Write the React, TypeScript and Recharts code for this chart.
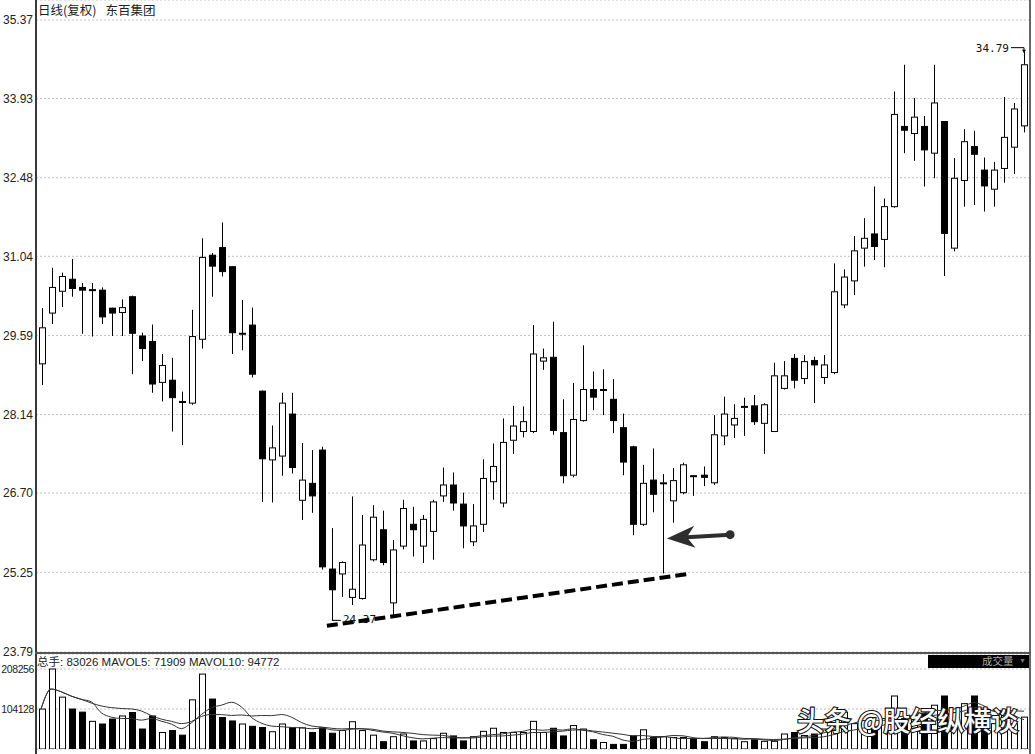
import React from 'react';
import { ComposedChart, Bar, Line, XAxis, YAxis, CartesianGrid, ReferenceLine, ReferenceDot } from 'recharts';

const OPEN = [29.07, 30.00, 30.40, 30.62, 30.47, 30.42, 30.42, 30.09, 30.01, 30.30,
  29.58, 29.48, 28.73, 28.77, 28.38, 28.35, 29.52, 31.06, 31.20, 30.85,
  29.62, 29.78, 28.57, 27.31, 27.38, 28.15, 26.57, 26.88, 27.49, 25.31,
  25.22, 24.79, 24.77, 25.48, 26.03, 24.69, 25.73, 26.13, 25.73, 26.00,
  26.65, 26.85, 26.50, 25.81, 26.13, 26.91, 26.52, 27.67, 27.83, 27.83,
  29.12, 29.19, 27.81, 27.03, 28.03, 28.60, 28.59, 28.42, 27.90, 27.55,
  26.13, 26.94, 26.88, 26.56, 26.71, 27.02, 27.03, 26.89, 27.75, 27.95,
  28.28, 28.30, 27.98, 27.83, 28.62, 29.17, 28.80, 29.13, 28.82, 28.91,
  30.15, 30.59, 31.19, 31.45, 31.35, 31.95, 33.42, 33.29, 33.42, 32.93,
  33.51, 31.19, 32.43, 33.05, 32.62, 32.27, 32.65, 33.04, 33.43];
const HIGH = [30.09, 30.83, 30.74, 30.99, 30.55, 30.55, 30.47, 30.10, 30.25, 30.32,
  29.64, 29.79, 29.25, 29.18, 28.56, 30.06, 31.37, 31.10, 31.66, 30.86,
  30.24, 30.10, 28.58, 27.94, 28.54, 28.54, 27.62, 27.49, 27.55, 26.06,
  25.45, 26.64, 26.30, 26.48, 26.38, 25.84, 26.58, 26.45, 26.30, 26.58,
  27.17, 27.08, 26.71, 26.50, 27.32, 27.61, 28.07, 28.30, 28.29, 29.78,
  29.35, 29.84, 28.42, 28.72, 29.41, 28.93, 28.97, 28.79, 28.16, 27.57,
  27.22, 27.52, 27.05, 27.16, 27.26, 27.03, 27.19, 28.13, 28.47, 28.33,
  28.45, 28.50, 28.35, 29.09, 29.12, 29.25, 29.23, 29.20, 29.23, 30.91,
  30.80, 31.41, 31.74, 32.32, 32.10, 34.06, 34.55, 33.94, 33.61, 34.55,
  33.52, 32.84, 33.37, 33.34, 32.85, 32.77, 33.96, 33.85, 34.79];
const LOW = [28.68, 29.80, 30.11, 30.30, 29.62, 29.57, 29.80, 29.58, 29.58, 28.88,
  29.12, 28.54, 28.38, 27.83, 27.58, 28.32, 29.35, 30.30, 30.67, 29.25,
  29.32, 28.82, 26.54, 26.53, 27.02, 27.06, 26.21, 26.34, 25.30, 24.37,
  24.80, 24.65, 24.75, 25.45, 25.38, 24.47, 25.67, 25.54, 25.42, 25.48,
  26.54, 26.38, 25.69, 25.73, 25.99, 26.58, 26.44, 27.42, 27.72, 27.80,
  28.96, 27.77, 26.88, 26.99, 28.01, 28.22, 28.13, 27.80, 27.03, 25.93,
  26.10, 26.35, 25.23, 26.16, 26.68, 26.65, 26.83, 26.85, 27.58, 27.71,
  27.75, 27.95, 27.42, 27.82, 28.60, 28.62, 28.70, 28.35, 28.70, 28.88,
  30.09, 30.33, 30.85, 30.97, 30.84, 31.93, 32.93, 32.79, 32.32, 32.47,
  30.68, 31.13, 31.95, 31.98, 31.86, 31.95, 32.39, 32.55, 33.31];
const CLOSE = [29.73, 30.47, 30.67, 30.45, 30.42, 30.43, 29.93, 30.00, 30.10, 29.63,
  29.35, 28.70, 29.04, 28.45, 28.37, 29.57, 31.02, 30.86, 30.76, 29.64,
  29.63, 28.88, 27.33, 27.53, 28.35, 27.17, 26.94, 26.65, 25.35, 24.93,
  25.43, 24.94, 25.75, 26.26, 25.43, 25.66, 26.42, 26.03, 26.22, 26.54,
  26.85, 26.52, 26.10, 26.10, 26.97, 27.19, 27.63, 27.93, 28.01, 29.25,
  29.18, 27.85, 27.02, 28.05, 28.60, 28.46, 28.60, 28.03, 27.27, 26.13,
  26.88, 26.68, 26.89, 26.93, 27.22, 27.01, 26.99, 27.77, 28.15, 28.07,
  28.29, 28.01, 28.32, 28.85, 28.85, 28.77, 29.11, 29.05, 29.05, 30.39,
  30.66, 31.14, 31.37, 31.22, 31.95, 33.64, 33.35, 33.59, 32.99, 33.85,
  31.46, 32.47, 33.14, 32.91, 32.33, 32.62, 33.22, 33.74, 34.55];
const VOLUME = [104000, 208256, 135000, 104000, 96000, 72000, 65000, 78000, 86000, 95000,
  52000, 86000, 43000, 48000, 36000, 128000, 195000, 130000, 82000, 73000,
  65000, 59000, 56000, 45000, 65000, 55000, 55000, 43000, 55000, 41000,
  48000, 71000, 48000, 36000, 19000, 32000, 39000, 21000, 21000, 27000,
  41000, 34000, 21000, 32000, 46000, 54000, 43000, 43000, 43000, 72000,
  43000, 54000, 34000, 61000, 52000, 24000, 17000, 12000, 12000, 34000,
  50000, 30000, 32000, 30000, 30000, 26000, 19000, 32000, 30000, 27000,
  19000, 24000, 20000, 20000, 39000, 43000, 35000, 39000, 52000, 82000,
  96000, 66000, 74000, 56000, 79000, 138000, 79000, 79000, 92000, 114000,
  138000, 95000, 118000, 138000, 74000, 66000, 92000, 66000, 83026];

const PRICE_TICKS = [23.79, 25.25, 26.70, 28.14, 29.59, 31.04, 32.48, 33.93, 35.37];
const VOL_TICKS = [104128, 208256];

const SUPPORT_LINE = [{ x: 28.5, y: 24.27 }, { x: 64.5, y: 25.22 }];
const ARROW = [{ x: 68.7, y: 25.94 }, { x: 62.4, y: 25.87 }];
const LOW_MARK = { i: 29, price: 24.37, label: '24.37' };
const HIGH_MARK = { i: 98, price: 34.79, label: '34.79' };

const avg = (i: number, n: number) => {
  const s = Math.max(0, i - n + 1);
  let t = 0;
  for (let k = s; k <= i; k++) t += VOLUME[k];
  return t / (i - s + 1);
};

const rows = OPEN.map((o, i) => ({
  i, o, h: HIGH[i], l: LOW[i], c: CLOSE[i], vol: VOLUME[i],
  up: CLOSE[i] >= o, ma5: avg(i, 5), ma10: avg(i, 10),
}));

const Candle = (p: any) => {
  const { x, y, width, height, payload } = p;
  const { o, h, l, c, up } = payload;
  const top = Math.min(y, y + height);
  const H = Math.abs(height);
  const k = h - l > 0 ? H / (h - l) : 0;
  const py = (v: number) => top + (h - v) * k;
  const cxi = Math.round(x + width / 2);
  const cx = cxi + 0.5;
  const bTop = py(Math.max(o, c));
  const bBot = py(Math.min(o, c));
  const bh = Math.max(bBot - bTop, 1);
  return (
    <g>
      <line x1={cx} x2={cx} y1={top} y2={bTop} stroke="#000" strokeWidth={1} />
      <line x1={cx} x2={cx} y1={bTop + bh} y2={top + H} stroke="#000" strokeWidth={1} />
      <rect x={cxi - 2.5} y={bTop} width={6} height={bh} fill={up ? '#fff' : '#000'} stroke="#000" strokeWidth={1} />
    </g>
  );
};

const VolBar = (p: any) => {
  const { x, y, width, height, payload } = p;
  const top = Math.min(y, y + height);
  const H = Math.abs(height);
  const cxi = Math.round(x + width / 2);
  return (
    <rect x={cxi - 2.5} y={top} width={6} height={H} fill={payload.up ? '#fff' : '#000'} stroke="#000" strokeWidth={1} />
  );
};

const ArrowShape = (p: any) => {
  const { x1, y1, x2, y2 } = p;
  if ([x1, y1, x2, y2].some((v) => v == null || isNaN(v))) return <g />;
  const dx = x2 - x1, dy = y2 - y1;
  const len = Math.sqrt(dx * dx + dy * dy) || 1;
  const ux = dx / len, uy = dy / len;
  const nx = -uy, ny = ux;
  const L = 26, W = 11;
  const bx = x2 - ux * L, by = y2 - uy * L;
  const pts = [
    [x2, y2],
    [bx + nx * W - ux * 2, by + ny * W - uy * 2],
    [bx + ux * 6, by + uy * 6],
    [bx - nx * W - ux * 2, by - ny * W - uy * 2],
  ].map((q) => q.join(',')).join(' ');
  return (
    <g>
      <line x1={x1} y1={y1} x2={bx + ux * 6} y2={by + uy * 6} stroke="#2e2e2e" strokeWidth={4} />
      <circle cx={x1} cy={y1} r={4.5} fill="#2e2e2e" />
      <polygon points={pts} fill="#2e2e2e" />
    </g>
  );
};

const LowMarkShape = (p: any) => {
  const { cx, cy } = p;
  return (
    <g>
      <line x1={cx} x2={cx + 9} y1={cy} y2={cy} stroke="#000" strokeWidth={1} />
      <text x={cx + 11} y={cy + 3} fontSize={11} fontFamily="DejaVu Sans Mono, monospace" fill="#111">{LOW_MARK.label}</text>
    </g>
  );
};

const HighMarkShape = (p: any) => {
  const { cx, cy } = p;
  const ly = cy - 4;
  return (
    <g>
      <text x={cx - 15} y={ly + 4} fontSize={11} textAnchor="end" fontFamily="DejaVu Sans Mono, monospace" fill="#111">{HIGH_MARK.label}</text>
      <line x1={cx - 13} x2={cx} y1={ly} y2={ly} stroke="#000" strokeWidth={1} />
      <line x1={cx} x2={cx} y1={ly} y2={cy + 1} stroke="#000" strokeWidth={1} />
      <polygon points={`${cx - 2},${cy - 2} ${cx + 2},${cy - 2} ${cx},${cy + 1}`} fill="#000" />
    </g>
  );
};

const tickStyle = { fontSize: 12, fill: '#222', fontFamily: 'Liberation Sans, Arial, sans-serif' };
const volTickStyle = { fontSize: 10.5, fill: '#222', fontFamily: 'Liberation Sans Narrow, Liberation Sans, Arial, sans-serif', letterSpacing: -0.4 };

export default function App() {
  return (
    <div style={{ position: 'absolute', left: 0, top: 0, width: 1035, height: 754, background: '#fff', overflow: 'hidden' }}>
      <div style={{ position: 'absolute', left: 0, top: 0 }}>
        <ComposedChart width={1035} height={672} data={rows} margin={{ top: 0, right: 6, bottom: 20, left: 0 }}>
          <CartesianGrid vertical={false} stroke="#c2c2c2" strokeDasharray="2 2" />
          <XAxis dataKey="i" type="number" domain={[-0.5, 98.5]} hide allowDataOverflow />
          <YAxis type="number" domain={[23.79, 35.7365]} ticks={PRICE_TICKS} allowDataOverflow width={36}
            tickLine={false} tickSize={1} tickMargin={2} axisLine={false} interval={0}
            tick={tickStyle} tickFormatter={(v: number) => v.toFixed(2)} />
          <Bar dataKey={(d: any) => [d.l, d.h]} barSize={7} shape={Candle} isAnimationActive={false} />
          <ReferenceDot x={LOW_MARK.i} y={LOW_MARK.price} r={0} shape={LowMarkShape} ifOverflow="visible" />
          <ReferenceDot x={HIGH_MARK.i} y={HIGH_MARK.price} r={0} shape={HighMarkShape} ifOverflow="visible" />
          <ReferenceLine segment={SUPPORT_LINE} stroke="#000" strokeWidth={4} strokeDasharray="11 5" ifOverflow="visible" />
          <ReferenceLine segment={ARROW} shape={ArrowShape} ifOverflow="visible" />
        </ComposedChart>
      </div>
      <div style={{ position: 'absolute', left: 0, top: 654 }}>
        <ComposedChart width={1035} height={100} data={rows} margin={{ top: 0, right: 6, bottom: 5, left: 0 }}>
          <CartesianGrid vertical={false} stroke="#c2c2c2" strokeDasharray="2 2" />
          <XAxis dataKey="i" type="number" domain={[-0.5, 98.5]} hide allowDataOverflow />
          <YAxis type="number" domain={[0, 247304]} ticks={VOL_TICKS} allowDataOverflow width={36}
            tickLine={false} tickSize={1} tickMargin={1} axisLine={false} interval={0}
            tick={volTickStyle} tickFormatter={(v: number) => String(v)} />
          <Bar dataKey="vol" barSize={7} shape={VolBar} isAnimationActive={false} />
          <Line dataKey="ma5" type="monotone" stroke="#333" strokeWidth={1} dot={false} isAnimationActive={false} />
          <Line dataKey="ma10" type="monotone" stroke="#333" strokeWidth={1} dot={false} isAnimationActive={false} />
        </ComposedChart>
      </div>
      {/* frame */}
      <div style={{ position: 'absolute', left: 35, top: 0, width: 2, height: 754, background: '#3a3a3a' }} />
      <div style={{ position: 'absolute', left: 1029, top: 0, width: 2, height: 754, background: '#666' }} />
      <div style={{ position: 'absolute', left: 35, top: 652, width: 996, height: 2, background: '#555' }} />
      {/* title */}
      <div style={{ position: 'absolute', left: 38, top: 2, fontSize: 12.5, color: '#222', fontFamily: 'Noto Sans CJK SC, sans-serif', lineHeight: '16px', whiteSpace: 'nowrap' }}>
        日线(复权)<span style={{ marginLeft: 9 }}>东百集团</span>
      </div>
      {/* volume header */}
      <div style={{ position: 'absolute', left: 37, top: 655, fontSize: 11.5, color: '#222', fontFamily: 'Liberation Sans, Arial, Noto Sans CJK SC, sans-serif', lineHeight: '14px', whiteSpace: 'nowrap' }}>
        总手: 83026 MAVOL5: 71909 MAVOL10: 94772
      </div>
      <div style={{ position: 'absolute', left: 928, top: 655, width: 101, height: 13, background: '#000' }}>
        <span style={{ position: 'absolute', left: 54, top: -1, fontSize: 10.5, color: '#aaa', fontFamily: 'Noto Sans CJK SC, sans-serif', lineHeight: '14px' }}>成交量</span>
        <span style={{ position: 'absolute', left: 91, top: 0, fontSize: 7, color: '#777', lineHeight: '13px' }}>▼</span>
      </div>
      {/* watermark */}
      <svg width={1035} height={754} style={{ position: 'absolute', left: 0, top: 0, pointerEvents: 'none' }}>
        <text x={797} y={731} fontSize={27} fontWeight={500} fontFamily="Noto Sans CJK SC, sans-serif" fill="#fff" stroke="#111" strokeWidth={2.2} style={{ paintOrder: 'stroke' } as any}>头条 @股经纵横谈</text>
      </svg>
    </div>
  );
}
